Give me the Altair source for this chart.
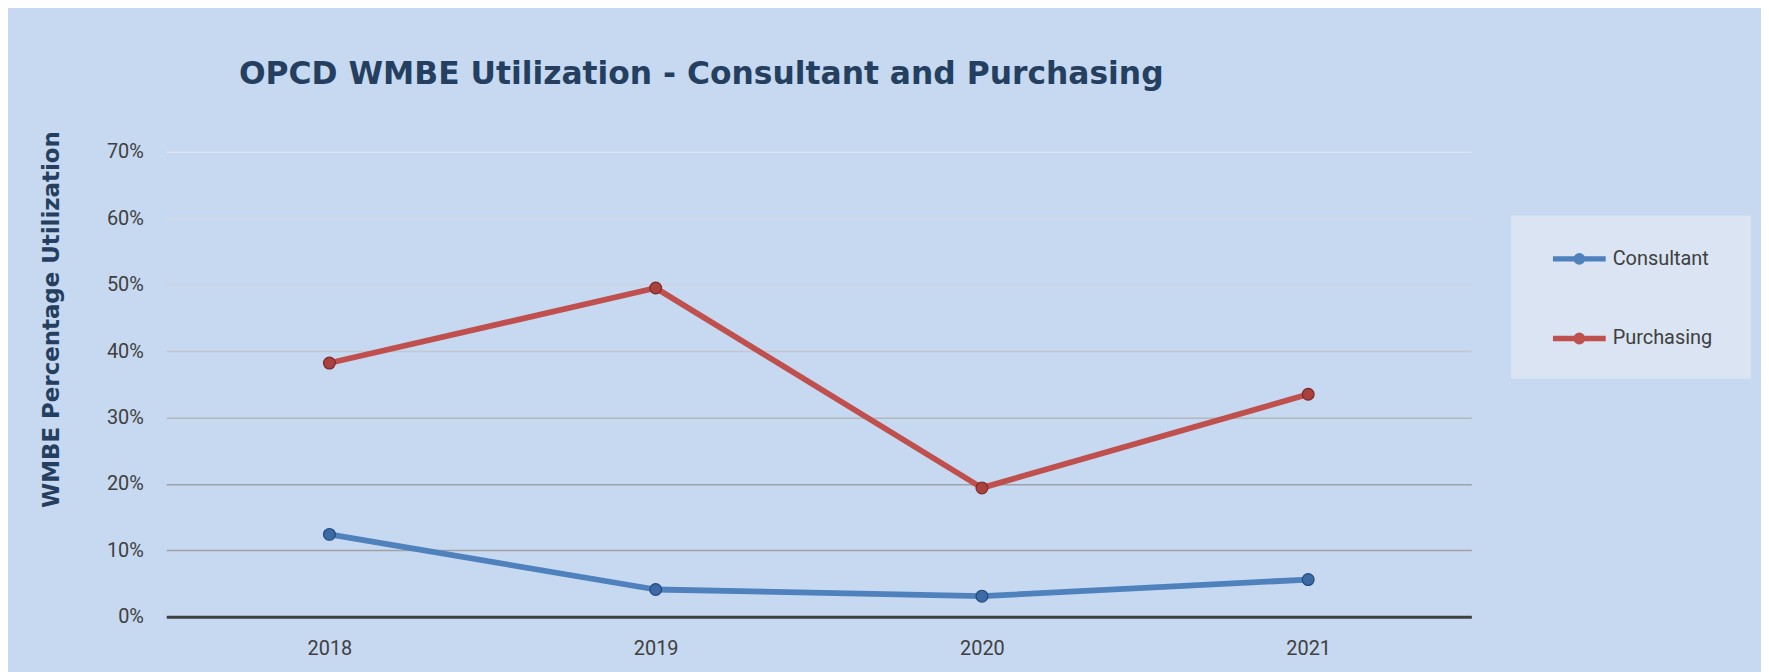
import altair as alt
import pandas as pd

years = ["2018", "2019", "2020", "2021"]
series_names = ["Consultant", "Purchasing"]
consultant = [0.124, 0.041, 0.031, 0.056]
purchasing = [0.382, 0.495, 0.194, 0.335]
y_ticks = [0.0, 0.1, 0.2, 0.3, 0.4, 0.5, 0.6, 0.7]

rows = []
for name, vals in zip(series_names, [consultant, purchasing]):
    for yr, v in zip(years, vals):
        rows.append({"Year": yr, "Series": name, "Value": v})
df = pd.DataFrame(rows)

line_colors = ["#4f81bd", "#c0504d"]
point_fills = ["#3b6aa6", "#ab413e"]
point_edges = ["#24497a", "#7d2826"]

legend_path = ("M-1,0 L1,0 "
               "M0.12,0 A0.12,0.12 0 1,1 -0.12,0 A0.12,0.12 0 1,1 0.12,0")

x_enc = alt.X(
    "Year:O",
    sort=years,
    scale=alt.Scale(type="point", padding=0.5),
    axis=alt.Axis(
        title=None, labelAngle=0, ticks=False, tickSize=0, grid=False,
        domain=True, domainColor="#404040", domainWidth=3,
        labelFont="Roboto", labelFontSize=20, labelColor="#404040",
        labelPadding=22,
    ),
)

y_enc = alt.Y(
    "Value:Q",
    scale=alt.Scale(domain=[0, 0.7], nice=False, zero=True),
    axis=alt.Axis(
        title="WMBE Percentage Utilization",
        values=y_ticks, format=".0%",
        ticks=False, tickSize=0, domain=False,
        grid=True, gridWidth=1.5,
        gridColor={
            "condition": [
                {"test": "datum.value >= 0.65", "value": "#dde5ef"},
                {"test": "datum.value >= 0.55", "value": "#d4dbe5"},
                {"test": "datum.value >= 0.45", "value": "#cdd4dd"},
                {"test": "datum.value >= 0.35", "value": "#c2c8d0"},
                {"test": "datum.value >= 0.25", "value": "#b3b8be"},
            ],
            "value": "#9ea2a7",
        },
        labelFont="Roboto", labelFontSize=20, labelColor="#404040",
        labelPadding=23,
        titleFont="DejaVu Sans", titleFontSize=23, titleFontWeight="bold",
        titleColor="#243f60", titleAngle=270, titleAlign="center",
        titleBaseline="middle", titleX=-115, titleY=168,
    ),
)

color_scale = alt.Scale(domain=series_names, range=line_colors)

lines = alt.Chart(df).mark_line(strokeWidth=5.8, strokeCap="round", strokeJoin="round").encode(
    x=x_enc,
    y=y_enc,
    color=alt.Color(
        "Series:N", scale=color_scale,
        legend=alt.Legend(
            title="0" * 37, titleOrient="bottom", titleFontSize=10, titlePadding=2,
            titleFont="Roboto", titleOpacity=0, titleLimit=400,
            orient="none", legendX=1351, legendY=64,
            symbolType=legend_path, symbolSize=2809, symbolStrokeWidth=5.5,
            symbolOffset=25, labelOffset=4, padding=14, rowPadding=36,
            labelFont="Roboto", labelFontSize=20, labelColor="#404040",
            fillColor="#dae4f2",
        ),
    ),
)

points = alt.Chart(df).mark_point(filled=True, size=140, opacity=1, strokeWidth=1.2).encode(
    x=x_enc,
    y=y_enc,
    fill=alt.Fill("Series:N", scale=alt.Scale(domain=series_names, range=point_fills), legend=None),
    stroke=alt.Stroke("Series:N", scale=alt.Scale(domain=series_names, range=point_edges), legend=None),
)

chart = alt.layer(lines, points).properties(
    width=1311,
    height=467,
    autosize=alt.AutoSizeParams(type="none"),
    padding={"left": 159, "top": 143, "right": 291, "bottom": 54},
    background="#c6d9f0",
    title=alt.TitleParams(
        text="OPCD WMBE Utilization - Consultant and Purchasing",
        anchor="start", frame="group", dx=73, offset=15,
        font="DejaVu Sans", fontSize=31.5, fontWeight="bold",
        color="#243f60", baseline="alphabetic",
    ),
).configure_view(stroke=None)

chart.save("out.html", embed_options={"renderer": "svg", "actions": False})
